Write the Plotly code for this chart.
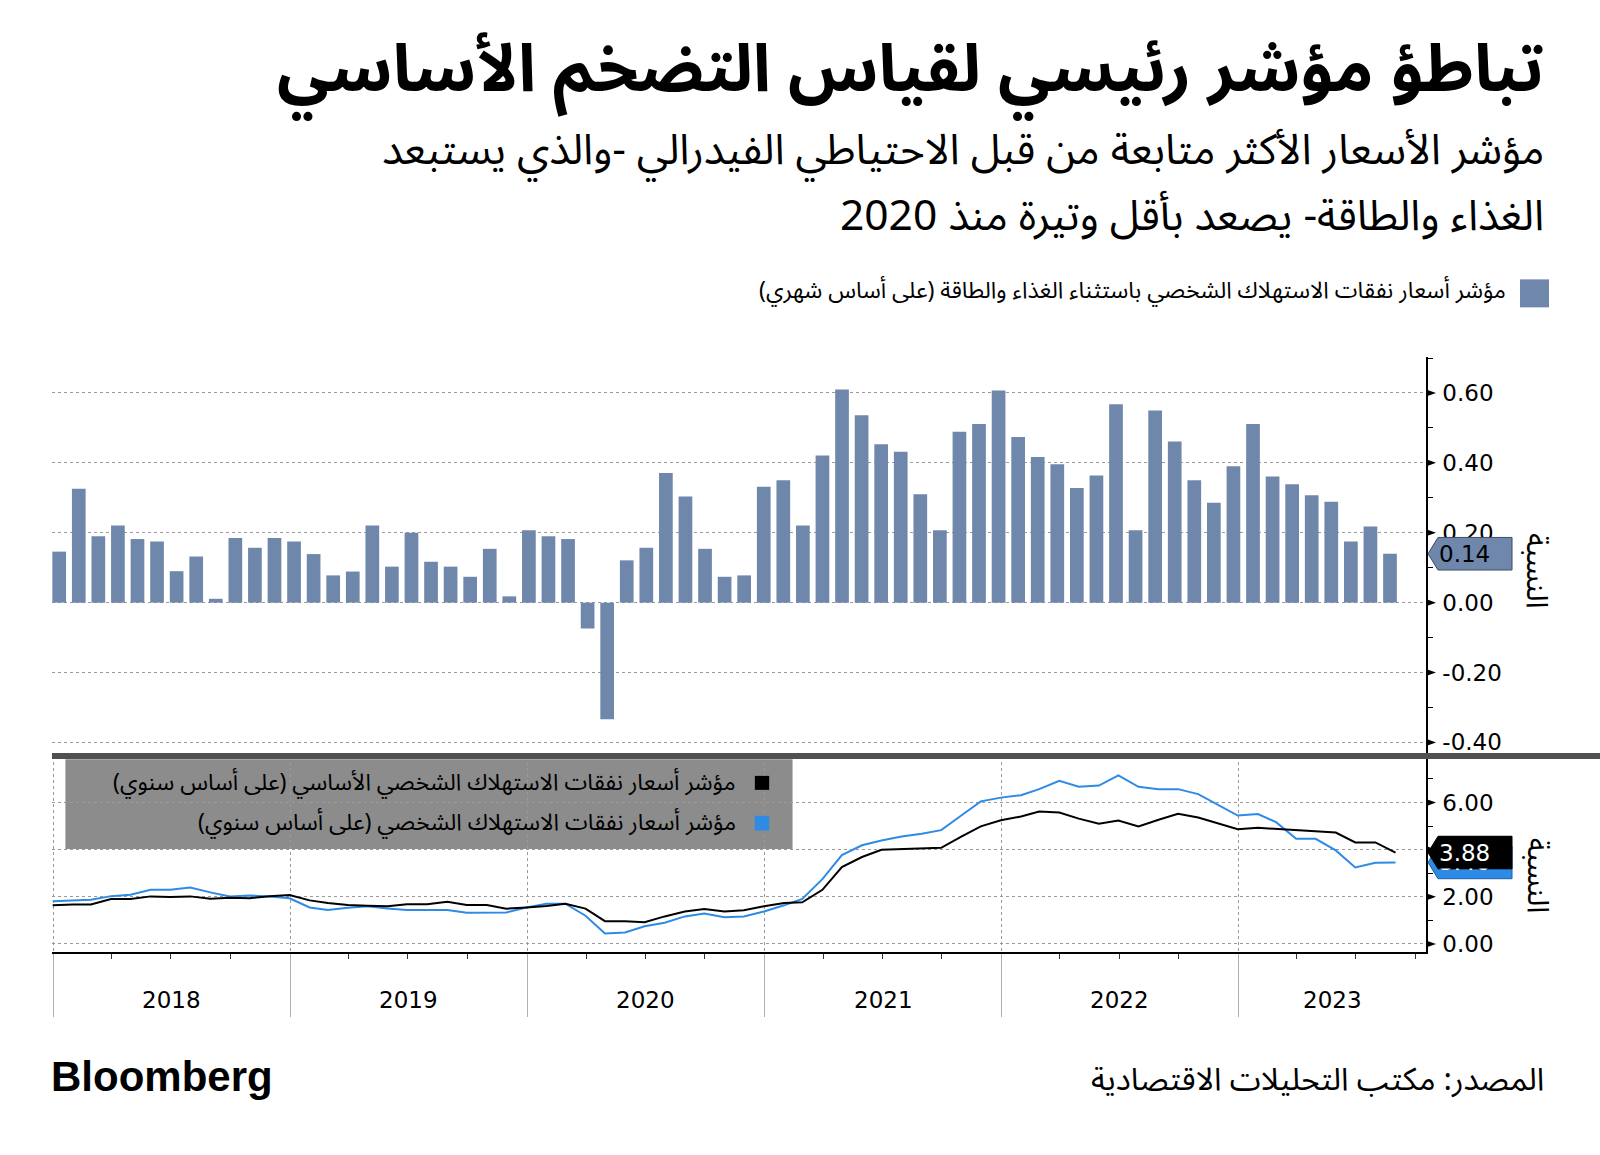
import pandas as pd
import plotly.graph_objects as go

# ---------------- data ----------------
months = pd.period_range("2017-12", "2023-08", freq="M").strftime("%Y-%m").tolist()

core_mom = [0.146, 0.326, 0.190, 0.221, 0.182, 0.175, 0.090, 0.132, 0.011, 0.185, 0.157, 0.185,
            0.175, 0.139, 0.078, 0.089, 0.221, 0.103, 0.200, 0.117, 0.103, 0.074, 0.154, 0.018,
            0.207, 0.190, 0.182, -0.074, -0.334, 0.121, 0.157, 0.371, 0.304, 0.154, 0.074, 0.078,
            0.332, 0.350, 0.221, 0.421, 0.610, 0.536, 0.453, 0.432, 0.310, 0.207, 0.489, 0.511,
            0.607, 0.474, 0.417, 0.396, 0.328, 0.364, 0.568, 0.207, 0.550, 0.461, 0.350, 0.286,
            0.390, 0.511, 0.361, 0.339, 0.307, 0.289, 0.175, 0.218, 0.140]

core_yoy = [1.64, 1.68, 1.68, 1.91, 1.91, 2.02, 1.99, 2.02, 1.92, 1.96, 1.94, 2.03,
            2.08, 1.85, 1.74, 1.65, 1.62, 1.60, 1.69, 1.69, 1.79, 1.65, 1.65, 1.50,
            1.55, 1.61, 1.71, 1.50, 0.97, 0.97, 0.92, 1.17, 1.38, 1.48, 1.38, 1.43,
            1.60, 1.74, 1.77, 2.30, 3.26, 3.69, 4.00, 4.03, 4.03, 4.08, 4.56, 4.99,
            5.25, 5.41, 5.62, 5.58, 5.32, 5.10, 5.24, 4.99, 5.27, 5.52, 5.37, 5.13,
            4.87, 4.93, 4.89, 4.83, 4.79, 4.73, 4.31, 4.31, 3.88]

pce_yoy = [1.81, 1.84, 1.88, 2.03, 2.09, 2.30, 2.30, 2.40, 2.19, 2.02, 2.06, 2.01,
           1.94, 1.55, 1.44, 1.54, 1.60, 1.51, 1.44, 1.44, 1.44, 1.33, 1.33, 1.34,
           1.55, 1.71, 1.71, 1.20, 0.45, 0.49, 0.75, 0.90, 1.17, 1.29, 1.13, 1.17,
           1.38, 1.64, 1.91, 2.75, 3.77, 4.19, 4.39, 4.56, 4.68, 4.83, 5.45, 6.05,
           6.21, 6.31, 6.57, 6.92, 6.67, 6.72, 7.15, 6.67, 6.57, 6.57, 6.36, 5.90,
           5.45, 5.51, 5.17, 4.46, 4.46, 3.97, 3.25, 3.45, 3.46]

years = ["2018", "2019", "2020", "2021", "2022", "2023"]
top_ticks = [-0.4, -0.2, 0.0, 0.2, 0.4, 0.6]
bottom_ticks = [0, 2, 4, 6]

title = "تباطؤ مؤشر رئيسي لقياس التضخم الأساسي"
subtitle1 = "مؤشر الأسعار الأكثر متابعة من قبل الاحتياطي الفيدرالي -والذي يستبعد"
subtitle2 = "الغذاء والطاقة- يصعد بأقل وتيرة منذ 2020"
legend_bar = "مؤشر أسعار نفقات الاستهلاك الشخصي باستثناء الغذاء والطاقة (على أساس شهري)"
legend_core = "مؤشر أسعار نفقات الاستهلاك الشخصي الأساسي (على أساس سنوي)"
legend_pce = "مؤشر أسعار نفقات الاستهلاك الشخصي (على أساس سنوي)"
axis_title = "النسبة"
source = "المصدر: مكتب التحليلات الاقتصادية"

# ---------------- styling ----------------
W, H = 1600, 1155
ML, MR, MT, MB = 52.3, 174.0, 356.7, 202.7
PW = W - ML - MR
PH = H - MT - MB
SPLIT_PX = 756.0

def px_x(p):
    return (p - ML) / PW

def px_y(p):
    return (H - MB - p) / PH

split = px_y(SPLIT_PX)

AR = "Noto Sans Arabic, DejaVu Sans, sans-serif"
NUM = "DejaVu Sans, sans-serif"
BAR_C = "#6f87ab"
BLUE = "#2d8be6"
GRID = "#9a9a9a"
RLM = "\u200f"

def rtl(s):
    return RLM + s + RLM

x_range = ["2017-12-30", "2023-10-17"]
line_x = [pd.Period(m).end_time.strftime("%Y-%m-%d") for m in months]
year_starts = [f"{y}-01-01" for y in years]

top_range = [-0.4386, 0.703]
bot_range = [-0.34, 7.98]

fig = go.Figure()

fig.add_trace(go.Bar(x=months, y=core_mom, xaxis="x3", yaxis="y",
                     marker=dict(color=BAR_C, line=dict(width=0)), width=0.7,
                     showlegend=False))
fig.add_trace(go.Scatter(x=line_x, y=pce_yoy, xaxis="x2", yaxis="y2", mode="lines",
                         line=dict(color=BLUE, width=2), showlegend=False))
fig.add_trace(go.Scatter(x=line_x, y=core_yoy, xaxis="x2", yaxis="y2", mode="lines",
                         line=dict(color="black", width=2), showlegend=False))

common_y = dict(side="right", showline=True, linecolor="black", linewidth=1.5,
                showgrid=True, gridcolor=GRID, griddash="dot", gridwidth=1,
                zeroline=False, ticks="outside", ticklen=10, tickcolor="rgba(0,0,0,0)",
                tickfont=dict(family=NUM, size=23, color="black"), tickmode="array")

fig.update_layout(
    width=W, height=H,
    margin=dict(l=ML, r=MR, t=MT, b=MB, pad=0),
    paper_bgcolor="white", plot_bgcolor="white",
    bargap=0.3,
    xaxis=dict(domain=[0, 1], anchor="y", type="date", range=x_range,
               tickmode="array", tickvals=year_starts, showticklabels=False, ticks="",
               showgrid=True, gridcolor=GRID, griddash="dot", gridwidth=1,
               showline=False, zeroline=False),
    xaxis3=dict(type="category", overlaying="x", anchor="y",
                range=[-0.368, 69.84], visible=False),
    xaxis2=dict(domain=[0, 1], anchor="y2", type="date", range=x_range,
                tickmode="array", tickvals=year_starts, showticklabels=False,
                ticks="outside", ticklen=63, tickcolor="#b0b0b0", tickwidth=1,
                showgrid=True, gridcolor=GRID, griddash="dot", gridwidth=1,
                showline=True, linecolor="black", linewidth=1.5, zeroline=False,
                minor=dict(tickmode="linear", tick0="2018-01-01", dtick="M3",
                           ticks="outside", ticklen=5, tickcolor="#333", showgrid=False)),
    yaxis=dict(domain=[split, 1], anchor="x", range=top_range,
               tickvals=top_ticks, ticktext=[f"{v:.2f}" for v in top_ticks],
               minor=dict(tickmode="linear", tick0=0, dtick=0.1, ticks="outside",
                          ticklen=5, tickcolor="black", showgrid=False),
               **common_y),
    yaxis2=dict(domain=[0, split], anchor="x2", range=bot_range,
                tickvals=bottom_ticks, ticktext=[f"{v:.2f}" for v in bottom_ticks],
                minor=dict(tickmode="linear", tick0=0, dtick=1, ticks="outside",
                           ticklen=5, tickcolor="black", showgrid=False),
                **common_y),
)

shapes = []
annotations = []

# triangle tick markers on right axes
tw = 10 / PW
for v in top_ticks:
    h = 3.6 / 350.0
    shapes.append(dict(type="path", xref="paper", yref="y",
                       path=f"M 1,{v-h} L {1+tw},{v} L 1,{v+h} Z",
                       fillcolor="black", line=dict(width=0)))
for v in bottom_ticks:
    h = 3.6 / 23.6
    shapes.append(dict(type="path", xref="paper", yref="y2",
                       path=f"M 1,{v-h} L {1+tw},{v} L 1,{v+h} Z",
                       fillcolor="black", line=dict(width=0)))

# value tags
tip, body_l, body_r = px_x(1428), px_x(1438), px_x(1512)

def tag(yref, val, half, fill, border, txtcolor, cover=False):
    shapes.append(dict(type="path", xref="paper", yref=yref,
                       path=(f"M {tip},{val} L {body_l},{val+half} L {body_r},{val+half} "
                             f"L {body_r},{val-half} L {body_l},{val-half} Z"),
                       fillcolor=fill, line=dict(color=border, width=1)))
    ann = dict(xref="paper", yref=yref, x=body_l, y=val,
               xanchor="left", yanchor="middle", showarrow=False,
               text=f"{val:.2f}", borderpad=0, align="left",
               font=dict(family=NUM, size=23, color=txtcolor))
    if cover:
        ann.update(bgcolor=fill, width=72, height=31)
    annotations.append(ann)

tag("y", core_mom[-1], 16.3 / 350.0, BAR_C, "#3d4c63", "black")
tag("y2", pce_yoy[-1], 16.3 / 23.6, BLUE, "#1b5fa6", "white")
tag("y2", core_yoy[-1], 16.3 / 23.6, "black", "black", "white", cover=True)

# separator between panels
shapes.append(dict(type="line", xref="paper", yref="paper", x0=0, x1=px_x(1600),
                   y0=split, y1=split, line=dict(color="#505050", width=6)))

# bottom legend box
shapes.append(dict(type="rect", xref="paper", yref="paper", layer="below",
                   x0=px_x(65.7), x1=px_x(792.7), y0=px_y(849.3), y1=px_y(759.3),
                   fillcolor="#8c8c8c", line=dict(width=0)))
shapes.append(dict(type="rect", xref="paper", yref="paper",
                   x0=px_x(755), x1=px_x(769.3), y0=px_y(790), y1=px_y(776),
                   fillcolor="black", line=dict(width=0)))
shapes.append(dict(type="rect", xref="paper", yref="paper",
                   x0=px_x(755), x1=px_x(769.3), y0=px_y(830.7), y1=px_y(816),
                   fillcolor=BLUE, line=dict(width=0)))
annotations.append(dict(xref="paper", yref="paper", x=px_x(738), y=px_y(783),
                        xanchor="right", yanchor="middle", showarrow=False,
                        text=rtl(legend_core), font=dict(family=AR, size=23, color="black")))
annotations.append(dict(xref="paper", yref="paper", x=px_x(738), y=px_y(823),
                        xanchor="right", yanchor="middle", showarrow=False,
                        text=rtl(legend_pce), font=dict(family=AR, size=23, color="black")))

# top legend
shapes.append(dict(type="rect", xref="paper", yref="paper",
                   x0=px_x(1520), x1=px_x(1549), y0=px_y(307), y1=px_y(279),
                   fillcolor=BAR_C, line=dict(width=0)))
annotations.append(dict(xref="paper", yref="paper", x=px_x(1508), y=px_y(290),
                        xanchor="right", yanchor="middle", showarrow=False,
                        text=rtl(legend_bar), font=dict(family=AR, size=23, color="black")))

# titles
annotations.append(dict(xref="paper", yref="paper", x=px_x(1546), y=px_y(69),
                        xanchor="right", yanchor="middle", showarrow=False,
                        text="<b>" + rtl(title) + "</b>",
                        font=dict(family=AR, size=66, color="black")))
annotations.append(dict(xref="paper", yref="paper", x=px_x(1546), y=px_y(150),
                        xanchor="right", yanchor="middle", showarrow=False,
                        text=rtl(subtitle1), font=dict(family=AR, size=42.5, color="black")))
annotations.append(dict(xref="paper", yref="paper", x=px_x(1546), y=px_y(216),
                        xanchor="right", yanchor="middle", showarrow=False,
                        text=rtl(subtitle2), font=dict(family=AR, size=42.5, color="black")))

# rotated axis titles
for yy in (571, 876):
    annotations.append(dict(xref="paper", yref="paper", x=px_x(1537), y=px_y(yy),
                            xanchor="center", yanchor="middle", showarrow=False,
                            textangle=90, text=axis_title,
                            font=dict(family=AR, size=30, color="black")))

# year labels centred in the visible span of each year
r0, r1 = pd.Timestamp(x_range[0]), pd.Timestamp(x_range[1])
for y in years:
    s = max(pd.Timestamp(f"{y}-01-01"), r0)
    e = min(pd.Timestamp(f"{int(y)+1}-01-01"), r1)
    mid = s + (e - s) / 2
    annotations.append(dict(xref="x2", yref="paper", x=mid.strftime("%Y-%m-%d %H:%M"),
                            y=px_y(1000), xanchor="center", yanchor="middle",
                            showarrow=False, text=y,
                            font=dict(family=NUM, size=23, color="black")))

# footer
annotations.append(dict(xref="paper", yref="paper", x=px_x(49), y=px_y(1077),
                        xanchor="left", yanchor="middle", showarrow=False,
                        text="<b>Bloomberg</b>",
                        font=dict(family="Liberation Sans, Arial, sans-serif", size=42, color="black")))
annotations.append(dict(xref="paper", yref="paper", x=px_x(1546), y=px_y(1080),
                        xanchor="right", yanchor="middle", showarrow=False,
                        text=rtl(source), font=dict(family=AR, size=31.5, color="black")))

fig.update_layout(shapes=shapes, annotations=annotations)
fig.write_html("out.html", config={"displayModeBar": False},
               post_script="document.body.style.margin='0px';document.body.style.padding='0px';")
